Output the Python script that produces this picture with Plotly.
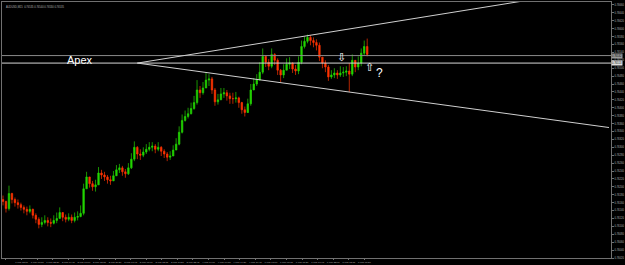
import plotly.graph_objects as go

# ---- data (5-digit points, price = pts / 100000) ----
first_open_pts = 76168
close_pts = [
    76163, 76145, 76183, 76168, 76160, 76155, 76148, 76143, 76138, 76143,
    76128, 76118, 76105, 76110, 76115, 76110, 76108, 76115, 76120, 76135,
    76123, 76118, 76123, 76115, 76123, 76125, 76133, 76195, 76225, 76208,
    76200, 76205, 76235, 76230, 76225, 76218, 76215, 76228, 76243, 76248,
    76238, 76233, 76248, 76270, 76300, 76283, 76280, 76288, 76295, 76300,
    76303, 76295, 76300, 76290, 76283, 76275, 76278, 76293, 76308, 76338,
    76368, 76378, 76385, 76398, 76413, 76445, 76438, 76450, 76470, 76473,
    76445, 76415, 76420, 76435, 76438, 76430, 76423, 76423, 76425, 76413,
    76395, 76388, 76410, 76445, 76460, 76470, 76490, 76530, 76515, 76505,
    76535, 76520, 76495, 76483, 76495, 76510, 76513, 76498, 76493, 76515,
    76555, 76568, 76578, 76570, 76565, 76558, 76528, 76513, 76503, 76478,
    76483, 76488, 76483, 76488, 76490, 76493, 76485, 76520, 76503, 76513,
    76538, 76555, 76535,
]
high_pts = [
    76178, 76165, 76203, 76185, 76173, 76168, 76160, 76153, 76150, 76153,
    76145, 76133, 76123, 76123, 76128, 76123, 76120, 76128, 76135, 76148,
    76135, 76130, 76133, 76130, 76135, 76138, 76153, 76208, 76238, 76220,
    76215, 76218, 76250, 76243, 76238, 76230, 76228, 76240, 76255, 76258,
    76253, 76245, 76260, 76285, 76315, 76303, 76295, 76300, 76308, 76313,
    76313, 76308, 76313, 76303, 76295, 76288, 76290, 76305, 76323, 76353,
    76383, 76393, 76400, 76413, 76430, 76470, 76455, 76465, 76490, 76485,
    76478, 76450, 76435, 76450, 76450, 76445, 76438, 76438, 76440, 76428,
    76415, 76403, 76423, 76460, 76475, 76485, 76515, 76550, 76533, 76523,
    76550, 76538, 76525, 76498, 76510, 76525, 76528, 76515, 76508, 76530,
    76570, 76580, 76585, 76583, 76578, 76573, 76565, 76528, 76520, 76508,
    76495, 76500, 76495, 76505, 76503, 76505, 76513, 76535, 76520, 76530,
    76550, 76570, 76575,
]
low_pts = [
    76153, 76135, 76140, 76158, 76150, 76145, 76140, 76133, 76128, 76133,
    76120, 76108, 76095, 76098, 76105, 76100, 76098, 76105, 76108, 76120,
    76113, 76110, 76113, 76108, 76110, 76115, 76123, 76128, 76195, 76198,
    76190, 76188, 76208, 76220, 76215, 76208, 76205, 76215, 76230, 76235,
    76228, 76223, 76230, 76245, 76265, 76270, 76268, 76275, 76283, 76290,
    76290, 76285, 76290, 76278, 76273, 76265, 76268, 76280, 76295, 76305,
    76335, 76365, 76373, 76383, 76395, 76408, 76425, 76433, 76450, 76455,
    76435, 76405, 76408, 76420, 76425, 76418, 76410, 76410, 76413, 76400,
    76385, 76378, 76390, 76405, 76445, 76455, 76470, 76485, 76503, 76495,
    76500, 76508, 76483, 76465, 76475, 76495, 76498, 76488, 76483, 76485,
    76510, 76550, 76563, 76558, 76553, 76545, 76518, 76500, 76490, 76468,
    76473, 76475, 76473, 76478, 76478, 76480, 76440, 76480, 76490, 76495,
    76505, 76533, 76530,
]
x_tick_labels = [
    "1 Mar 2016", "1 Mar 13:00", "1 Mar 18:15", "1 Mar 23:30", "2 Mar 04:45",
    "2 Mar 10:00", "2 Mar 15:15", "2 Mar 20:30", "3 Mar 01:45", "3 Mar 07:00",
    "3 Mar 12:15", "3 Mar 17:30", "3 Mar 22:45", "4 Mar 04:00", "4 Mar 09:15",
    "4 Mar 14:30", "4 Mar 19:45", "7 Mar 01:00", "7 Mar 06:15", "7 Mar 11:30",
    "7 Mar 16:45", "7 Mar 22:00", "8 Mar 03:15", "8 Mar 08:30",
]
hline_upper_price = 0.76532
hline_apex_price = 0.76513
apex_index = 45
trend_upper_end = (203, 0.76705)
trend_lower_end = (203, 0.76350)
title_text = "AUDUSD,M15  0.76535 0.76540 0.76530 0.76535"

# ---- build ----
closes = [v / 100000 for v in close_pts]
highs = [v / 100000 for v in high_pts]
lows = [v / 100000 for v in low_pts]
opens = [first_open_pts / 100000] + closes[:-1]
idx = list(range(len(closes)))

fig = go.Figure()
fig.add_trace(go.Candlestick(
    x=idx, open=opens, high=highs, low=lows, close=closes,
    increasing=dict(line=dict(color="#22d400", width=0.7), fillcolor="#22d400"),
    decreasing=dict(line=dict(color="#ff3300", width=0.7), fillcolor="#ff3300"),
    whiskerwidth=0, showlegend=False, hoverinfo="skip",
))

# horizontal lines
fig.add_trace(go.Scatter(x=[-1, 205], y=[hline_upper_price] * 2, mode="lines",
                         line=dict(color="#8a8a8a", width=1), showlegend=False, hoverinfo="skip"))
fig.add_trace(go.Scatter(x=[-1, 205], y=[hline_apex_price] * 2, mode="lines",
                         line=dict(color="#d8d8d8", width=1), showlegend=False, hoverinfo="skip"))
# trend lines from apex
for end in (trend_upper_end, trend_lower_end):
    fig.add_trace(go.Scatter(x=[apex_index, end[0]], y=[hline_apex_price, end[1]], mode="lines",
                             line=dict(color="#d0d0d0", width=1), showlegend=False, hoverinfo="skip"))

ymin, ymax = 0.76020, 0.766675
tickvals_x = [1 + 5.22 * k for k in range(len(x_tick_labels))]

fig.update_layout(
    width=625, height=265,
    margin=dict(l=2, r=11, t=1, b=5, pad=0),
    paper_bgcolor="black", plot_bgcolor="black",
    font=dict(family="Arial", color="#b0b0b0", size=3),
    xaxis=dict(range=[-1 / 3, 203 + 2 / 3], rangeslider=dict(visible=False),
               showgrid=False, zeroline=False, showline=True, linecolor="#707070",
               linewidth=1, mirror=True, tickmode="array", tickvals=tickvals_x,
               ticktext=x_tick_labels, tickangle=0, tickfont=dict(size=2.4, color="#b0b0b0"),
               ticks="outside", ticklen=1, tickcolor="#707070"),
    yaxis=dict(range=[ymin, ymax], side="right", showgrid=False, zeroline=False,
               showline=True, linecolor="#707070", linewidth=1, mirror=True,
               tick0=0.7666, dtick=0.0002, tickformat=".5f",
               tickfont=dict(size=2.6, color="#b0b0b0"), ticks="outside", ticklen=2,
               tickcolor="#707070"),
)

annotations = [
    dict(text="Apex", x=25.7, y=0.76520, xref="x", yref="y", showarrow=False,
         font=dict(family="Arial", size=11, color="white")),
    dict(text="?", x=126, y=0.76488, xref="x", yref="y", showarrow=False,
         font=dict(family="Arial", size=12, color="white")),
    dict(text="⇩", x=113.3, y=0.76526, xref="x", yref="y", showarrow=False,
         font=dict(family="DejaVu Sans", size=11, color="white")),
    dict(text="⇧", x=122.7, y=0.76502, xref="x", yref="y", showarrow=False,
         font=dict(family="DejaVu Sans", size=11, color="white")),
    dict(text=title_text, x=0.003, y=0.998, xref="paper", yref="paper", xanchor="left",
         yanchor="top", showarrow=False, font=dict(size=2.6, color="#b0b0b0")),
    dict(text=f"{hline_upper_price:.5f}", x=1.0, y=hline_upper_price, xref="paper", yref="y",
         xanchor="left", showarrow=False, bgcolor="#9a9a9a", borderpad=0,
         font=dict(size=2.6, color="black")),
    dict(text=f"{hline_apex_price:.5f}", x=1.0, y=hline_apex_price, xref="paper", yref="y",
         xanchor="left", showarrow=False, bgcolor="#e0e0e0", borderpad=0,
         font=dict(size=2.6, color="black")),
]
fig.update_layout(annotations=annotations)

fig.write_html("out.html")
